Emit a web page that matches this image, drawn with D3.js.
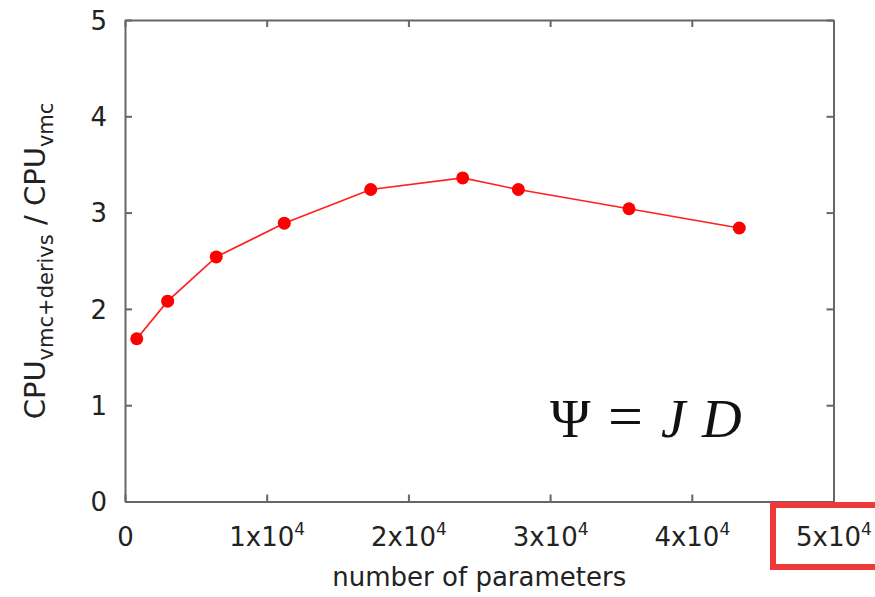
<!DOCTYPE html>
<html>
<head>
    <script src="https://cdn.jsdelivr.net/npm/d3@7"></script>
    <style>
        body { margin: 0; background: #fff; }
        svg { display: block; }
    </style>
</head>
<body>
    <svg width="875" height="597"></svg>
    <script>
        // values
        const nParams = [830, 3010, 6440, 11240, 17340, 23830, 27760, 35570, 43350]
        const cpuRatio = [1.69, 2.08, 2.54, 2.89, 3.24, 3.36, 3.24, 3.04, 2.84]
        const xTicks = [0, 10000, 20000, 30000, 40000, 50000]
        const xTickLabels = ['0', '1x10', '2x10', '3x10', '4x10', '5x10']
        const xTickExp = ['', '4', '4', '4', '4', '4']
        const yTicks = [0, 1, 2, 3, 4, 5]

        const FONT = '"DejaVu Sans", sans-serif'
        const AXIS_COLOR = '#666'
        const TEXT_COLOR = '#222'
        const LINE_COLOR = '#ff2020'
        const POINT_COLOR = '#ff0000'

        const svg = d3.select('svg')
        const plotLeft = 125, plotRight = 833.5, plotTop = 20, plotBottom = 501.5

        const x = d3.scaleLinear().domain([0, 50000]).range([plotLeft, plotRight])
        const y = d3.scaleLinear().domain([0, 5]).range([plotBottom, plotTop])

        // mirror ticks on top and right
        svg.append('g')
            .attr('transform', `translate(0,${plotTop})`)
            .call(d3.axisTop(x).tickValues(xTicks).tickSizeInner(-7).tickSizeOuter(0).tickFormat(''))
        svg.append('g')
            .attr('transform', `translate(${plotRight},0)`)
            .call(d3.axisRight(y).tickValues(yTicks).tickSizeInner(-7).tickSizeOuter(0).tickFormat(''))

        const xAxis = svg.append('g')
            .attr('transform', `translate(0,${plotBottom})`)
            .call(d3.axisBottom(x).tickValues(xTicks).tickSizeInner(-7).tickSizeOuter(0)
                .tickFormat(''))
        xAxis.selectAll('.tick text').each(function (d, i) {
            const t = d3.select(this)
            t.append('tspan').text(xTickLabels[i])
            if (xTickExp[i]) {
                t.append('tspan').attr('dy', -11).attr('font-size', 17).text(xTickExp[i])
            }
        })

        const yAxis = svg.append('g')
            .attr('transform', `translate(${plotLeft},0)`)
            .call(d3.axisLeft(y).tickValues(yTicks).tickSizeInner(-7).tickSizeOuter(0).tickPadding(18)
                .tickFormat(d3.format('d')))

        svg.selectAll('.domain, .tick line')
            .attr('stroke', AXIS_COLOR)
            .attr('stroke-width', 2)
        svg.selectAll('g').attr('font-family', FONT).attr('font-size', 26)
        svg.selectAll('.tick text').attr('fill', TEXT_COLOR)
        xAxis.selectAll('.tick text').attr('dy', null).attr('y', 44)
        yAxis.selectAll('.tick text').attr('dy', '0.36em')

        // data line and points
        const pts = nParams.map((n, i) => ({ n, r: cpuRatio[i] }))
        svg.append('path')
            .datum(pts)
            .attr('fill', 'none')
            .attr('stroke', LINE_COLOR)
            .attr('stroke-width', 1.7)
            .attr('d', d3.line().x(d => x(d.n)).y(d => y(d.r)))
        svg.selectAll('.pt').data(pts)
            .join('circle')
            .attr('class', 'pt')
            .attr('cx', d => x(d.n))
            .attr('cy', d => y(d.r))
            .attr('r', 6.5)
            .attr('fill', POINT_COLOR)

        // axis titles
        svg.append('text')
            .attr('x', (plotLeft + plotRight) / 2)
            .attr('y', 586)
            .attr('text-anchor', 'middle')
            .attr('font-family', FONT)
            .attr('font-size', 26)
            .attr('fill', TEXT_COLOR)
            .text('number of parameters')

        const yTitle = svg.append('text')
            .attr('transform', 'translate(45,261) rotate(-90)')
            .attr('text-anchor', 'middle')
            .attr('font-family', FONT)
            .attr('font-size', 29)
            .attr('fill', TEXT_COLOR)
        yTitle.append('tspan').text('CPU')
        yTitle.append('tspan').attr('font-size', 21).attr('dy', 8).text('vmc+derivs')
        yTitle.append('tspan').attr('dy', -8).text(' / CPU')
        yTitle.append('tspan').attr('font-size', 21).attr('dy', 8).text('vmc')

        // formula annotation
        const formula = svg.append('text')
            .attr('y', 437)
            .attr('font-family', '"Liberation Serif", "DejaVu Serif", serif')
            .attr('font-size', 55)
            .attr('fill', '#111')
        formula.append('tspan').attr('x', 550).text('Ψ')
        formula.append('tspan').attr('x', 608).attr('font-size', 62).text('=')
        formula.append('tspan').attr('x', 661).attr('font-style', 'italic').text('J')
        formula.append('tspan').attr('x', 702).attr('font-style', 'italic').text('D')

        // red highlight box around the last tick label
        svg.append('rect')
            .attr('x', 773)
            .attr('y', 505)
            .attr('width', 120)
            .attr('height', 62)
            .attr('fill', 'none')
            .attr('stroke', '#f03a3a')
            .attr('stroke-width', 6)
    </script>
</body>
</html>
